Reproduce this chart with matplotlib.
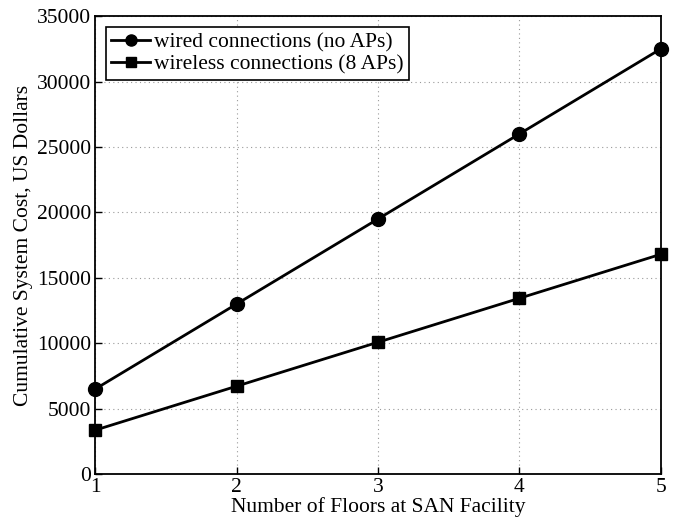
import matplotlib
matplotlib.use("Agg")
import matplotlib.pyplot as plt

floors = [1, 2, 3, 4, 5]
wired_cost = [6500, 13000, 19500, 26000, 32500]
wireless_cost = [3360, 6720, 10080, 13440, 16800]

plt.rcParams['font.family'] = ['Liberation Serif', 'DejaVu Serif']
plt.rcParams['font.size'] = 15.5

fig, ax = plt.subplots(figsize=(6.75, 5.21), dpi=100)
fig.subplots_adjust(left=0.141, right=0.979, top=0.969, bottom=0.09)

ax.plot(floors, wired_cost, color="black", lw=2, marker="o", ms=10,
        label="wired connections (no APs)", clip_on=False, zorder=3)
ax.plot(floors, wireless_cost, color="black", lw=2, marker="s", ms=8.5,
        label="wireless connections (8 APs)", clip_on=False, zorder=3)

ax.set_xlim(1, 5)
ax.set_ylim(0, 35000)
ax.set_xticks(floors)
ax.set_yticks(range(0, 35001, 5000))
ax.grid(True, linestyle=(0, (1, 3)), color="#999999", lw=0.8)
ax.tick_params(direction="in", length=5, width=1, pad=3)
for s in ax.spines.values():
    s.set_linewidth(1.3)

ax.set_xlabel("Number of Floors at SAN Facility", labelpad=0)
ax.set_ylabel("Cumulative System Cost, US Dollars", labelpad=3)

leg = ax.legend(loc="upper left", fancybox=False, framealpha=1,
                edgecolor="black", borderaxespad=0.5, handlelength=1.8,
                handletextpad=0.2, borderpad=0.25, labelspacing=0.1,
                markerscale=0.8)
leg.get_frame().set_linewidth(1.2)

fig.savefig("out.png")
